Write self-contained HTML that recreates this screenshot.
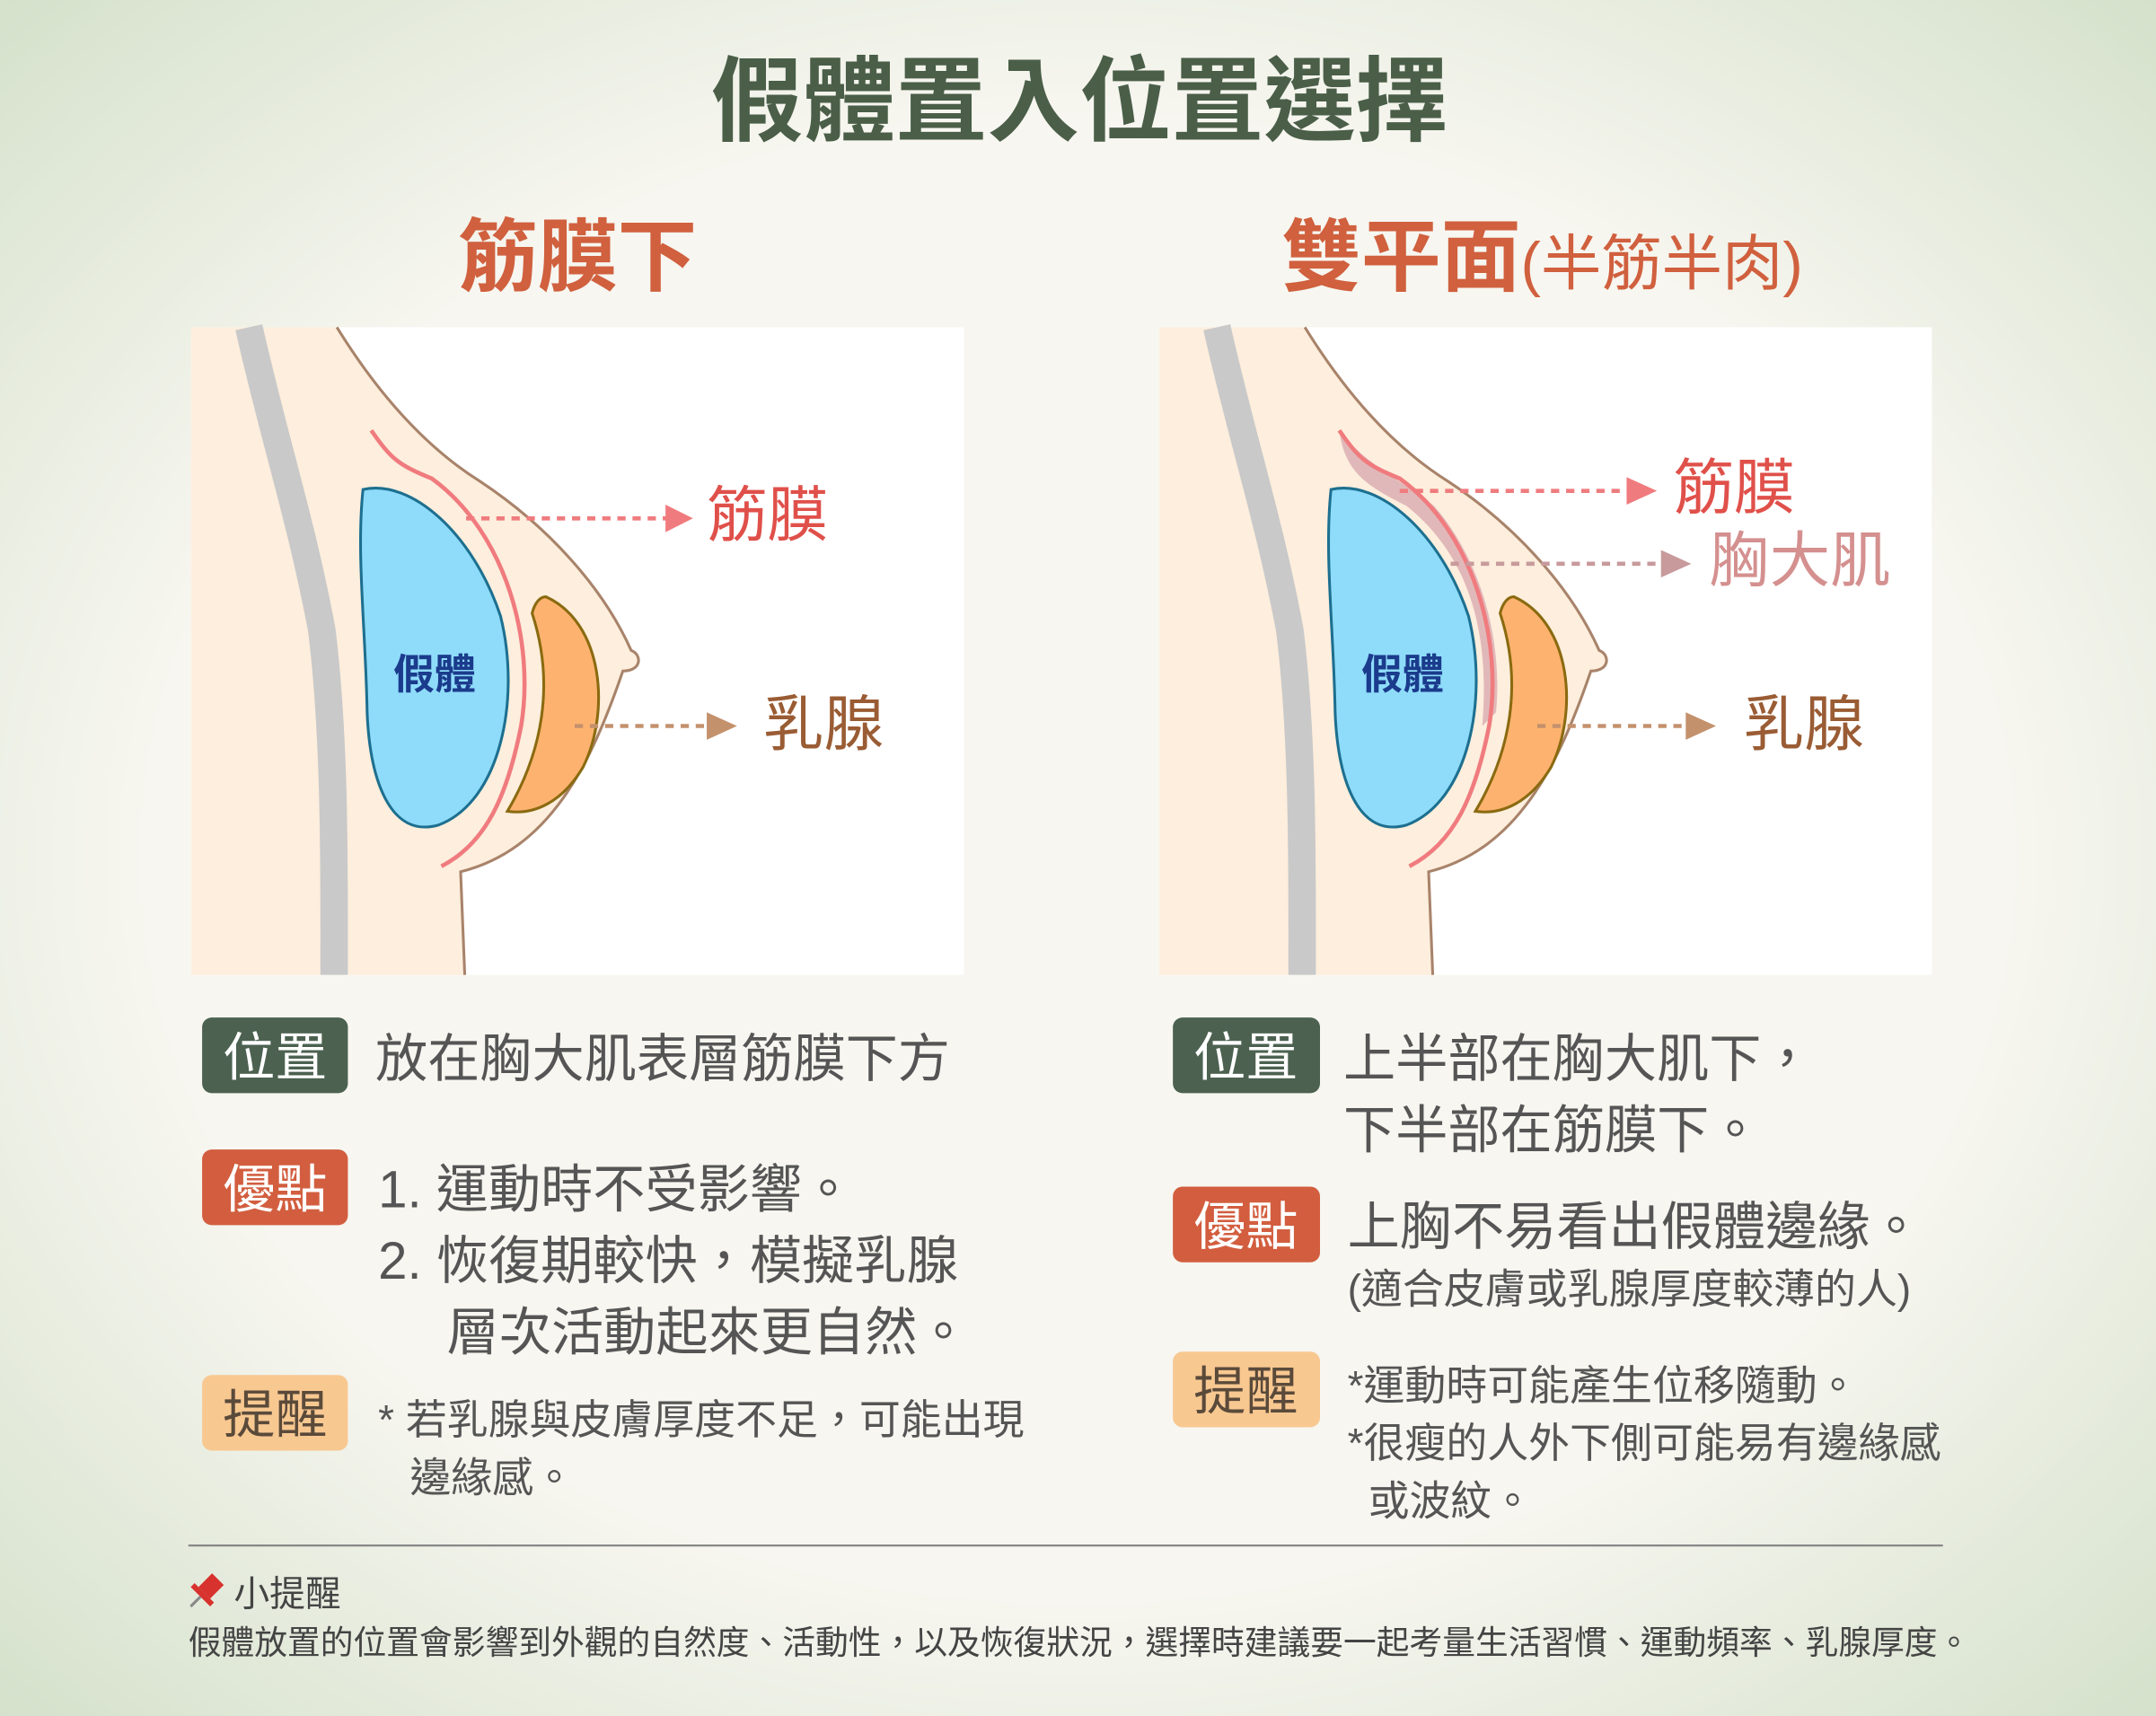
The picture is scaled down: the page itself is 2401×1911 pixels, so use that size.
<!DOCTYPE html>
<html><head><meta charset="utf-8"><style>
html,body{margin:0;padding:0;width:2401px;height:1911px;overflow:hidden}
svg{display:block}
text{font-family:"Liberation Sans","Noto Sans CJK TC",sans-serif}
</style></head><body>
<svg width="2401" height="1911" viewBox="0 0 1568 1248" preserveAspectRatio="none" xmlns="http://www.w3.org/2000/svg">
<defs>
<radialGradient id="bg" cx="50%" cy="50%" r="72%">
<stop offset="0.6" stop-color="#f7f6f0"/><stop offset="1" stop-color="#d3e0c9"/>
</radialGradient>
<g id="diag">
<rect x="0" y="0" width="562" height="471" fill="#fff"/>
<path d="M0 0 L106 0 C140 55 175 90 210 112 C260 145 300 190 320 235 L326 240 C327 250 320 250 314 250 C290 320 260 380 196 396 L199 471 L0 471 Z" fill="#fdeedd"/>
<path d="M106 0 C140 55 175 90 210 112 C260 145 300 190 320 235 C328 238 328 250 314 250 C290 320 260 380 196 396 L199 471" fill="none" stroke="#a8836a" stroke-width="2"/>
<path d="M42 0 C60 80 80 140 95 220 C105 300 104 400 104 471" fill="none" stroke="#c9c9c9" stroke-width="20"/>
</g>
<g id="impl">
<path d="M125 118 C160 110 205 150 225 210 C240 270 225 345 180 362 C145 372 130 330 128 280 C127 220 120 165 125 118 Z" fill="#8fdcfa" stroke="#1d6f8f" stroke-width="2"/>
<path d="M258 196 C300 215 305 280 285 320 C270 345 250 355 230 352 C255 310 265 260 248 208 C250 200 254 196 258 196 Z" fill="#fdb36f" stroke="#8a6a10" stroke-width="2"/>
<text x="147" y="263" font-size="30" font-weight="bold" fill="#1b3b8c">假體</text>
</g>
</defs>
<rect width="1568" height="1248" fill="url(#bg)"/>
<text x="785" y="97" font-size="67" font-weight="bold" fill="#4a5e48" text-anchor="middle">假體置入位置選擇</text>
<text x="420" y="207" font-size="58" font-weight="bold" fill="#d0603e" text-anchor="middle">筋膜下</text>
<text x="932" y="207" font-size="58" font-weight="bold" fill="#d0603e">雙平面<tspan font-size="44" font-weight="normal">(半筋半肉)</tspan></text>

<g transform="translate(139,238)">
<use href="#diag"/>
<path d="M131 75 C145 95 150 100 175 110 C230 150 250 230 240 290 C230 340 215 375 182 392" fill="none" stroke="#f07b7e" stroke-width="3"/>
<use href="#impl"/>
<line x1="200" y1="139" x2="350" y2="139" stroke="#f07b7e" stroke-width="3" stroke-dasharray="6,5"/>
<path d="M345 129 L365 139 L345 149 Z" fill="#f07b7e"/>
<text x="375" y="152" font-size="44" fill="#e0504a">筋膜</text>
<line x1="279" y1="290" x2="380" y2="290" stroke="#c4916d" stroke-width="3" stroke-dasharray="6,5"/>
<path d="M375 280 L397 290 L375 300 Z" fill="#c4916d"/>
<text x="416" y="304" font-size="44" fill="#9a5c34">乳腺</text>
</g>

<g transform="translate(843,238)">
<use href="#diag"/>
<path d="M131 75 C150 100 175 110 200 130 C235 170 250 230 245 280 L235 290 C240 230 230 170 180 130 C150 115 135 105 131 75 Z" fill="#d9aab0" opacity="0.8"/>
<path d="M131 75 C145 95 150 100 175 110 C230 150 250 230 240 290 C230 340 215 375 182 392" fill="none" stroke="#f07b7e" stroke-width="3"/>
<use href="#impl"/>
<line x1="175" y1="119" x2="345" y2="119" stroke="#f07b7e" stroke-width="3" stroke-dasharray="6,5"/>
<path d="M340 109 L362 119 L340 129 Z" fill="#f07b7e"/>
<text x="374" y="132" font-size="44" fill="#e0504a">筋膜</text>
<line x1="212" y1="172" x2="370" y2="172" stroke="#c89a9c" stroke-width="3" stroke-dasharray="6,5"/>
<path d="M365 162 L387 172 L365 182 Z" fill="#c89a9c"/>
<text x="400" y="185" font-size="44" fill="#d4908f">胸大肌</text>
<line x1="275" y1="290" x2="388" y2="290" stroke="#c4916d" stroke-width="3" stroke-dasharray="6,5"/>
<path d="M383 280 L405 290 L383 300 Z" fill="#c4916d"/>
<text x="425" y="304" font-size="44" fill="#9a5c34">乳腺</text>
</g>

<g font-size="38" fill="#555">
<rect x="147" y="740" width="106" height="55" rx="7" fill="#4c6150"/>
<text x="200" y="782" text-anchor="middle" fill="#fff">位置</text>
<text x="273" y="783">放在胸大肌表層筋膜下方</text>
<rect x="147" y="836" width="106" height="55" rx="7" fill="#d25e3f"/>
<text x="200" y="878" text-anchor="middle" fill="#fff">優點</text>
<text x="275" y="878">1. 運動時不受影響。</text>
<text x="275" y="930">2. 恢復期較快，模擬乳腺</text>
<text x="325" y="982">層次活動起來更自然。</text>
<rect x="147" y="1000" width="106" height="55" rx="7" fill="#f8c891"/>
<text x="200" y="1042" text-anchor="middle" fill="#5a4a3a">提醒</text>
<text x="275" y="1043" font-size="30">* 若乳腺與皮膚厚度不足，可能出現</text>
<text x="298" y="1085" font-size="30">邊緣感。</text>

<rect x="853" y="740" width="107" height="55" rx="7" fill="#4c6150"/>
<text x="906" y="782" text-anchor="middle" fill="#fff">位置</text>
<text x="977" y="783">上半部在胸大肌下，</text>
<text x="977" y="835">下半部在筋膜下。</text>
<rect x="853" y="863" width="107" height="55" rx="7" fill="#d25e3f"/>
<text x="906" y="905" text-anchor="middle" fill="#fff">優點</text>
<text x="980" y="905">上胸不易看出假體邊緣。</text>
<text x="980" y="948" font-size="30">(適合皮膚或乳腺厚度較薄的人)</text>
<rect x="853" y="983" width="107" height="55" rx="7" fill="#f8c891"/>
<text x="906" y="1025" text-anchor="middle" fill="#5a4a3a">提醒</text>
<text x="980" y="1018" font-size="30">*運動時可能產生位移隨動。</text>
<text x="980" y="1060" font-size="30">*很瘦的人外下側可能易有邊緣感</text>
<text x="995" y="1102" font-size="30">或波紋。</text>
</g>
<line x1="137" y1="1124" x2="1413" y2="1124" stroke="#888" stroke-width="1.5"/>
<g transform="translate(150,1157) rotate(45)">
<rect x="-6" y="-12" width="12" height="14" fill="#d8322e"/>
<rect x="-10" y="2" width="20" height="4" fill="#d8322e"/>
<line x1="0" y1="6" x2="0" y2="16" stroke="#888" stroke-width="2"/>
</g>
<text x="170" y="1168" font-size="26" fill="#444">小提醒</text>
<text x="137" y="1203" font-size="24" fill="#444">假體放置的位置會影響到外觀的自然度、活動性，以及恢復狀況，選擇時建議要一起考量生活習慣、運動頻率、乳腺厚度。</text>
</svg>
</body></html>
